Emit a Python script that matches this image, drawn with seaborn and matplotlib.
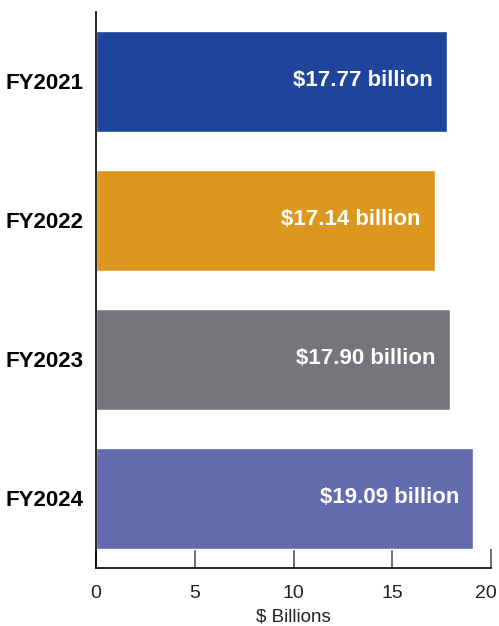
import pandas as pd
import matplotlib.pyplot as plt
import matplotlib.transforms as mtransforms
import seaborn as sns
from matplotlib import font_manager

# Chart data
years = ['FY2021', 'FY2022', 'FY2023', 'FY2024']
revenue = [17.77, 17.14, 17.90, 19.09]
bar_labels = ['$17.77 billion', '$17.14 billion', '$17.90 billion', '$19.09 billion']
bar_colors = ['#1f449b', '#dc971e', '#757679', '#636baf']
x_ticks = [0, 5, 10, 15, 20]


def pick_font():
    names = {f.name for f in font_manager.fontManager.ttflist}
    for name in ['Liberation Sans Narrow', 'Liberation Sans', 'DejaVu Sans']:
        if name in names:
            return name
    return 'DejaVu Sans'


def create_chart():
    df = pd.DataFrame({'year': years, 'value': revenue})

    sns.set_theme(style='white')
    plt.rcParams['font.family'] = [pick_font(), 'DejaVu Sans']

    fig = plt.figure(figsize=(4.99, 6.26), dpi=100)
    ax = fig.add_axes([0.1924, 0.0927, 0.7916, 0.8883])

    sns.barplot(data=df, y='year', x='value', hue='year', palette=bar_colors,
                orient='h', width=0.73, legend=False, ax=ax, saturation=1)

    # white labels inside the bar ends
    for i, (val, txt) in enumerate(zip(revenue, bar_labels)):
        ax.text(val - 0.7, i - 0.01, txt, ha='right', va='center', color='white',
                fontsize=16, fontweight='bold')

    ax.set_xlim(0, 20)
    ax.set_ylim(3.5, -0.5)
    ax.set_xticks(x_ticks)
    ax.set_xticklabels([str(t) for t in x_ticks], fontsize=14, color='#222222')
    ax.set_yticks(range(len(years)))
    ax.set_yticklabels(years, fontsize=16, fontweight='bold', color='black')
    ax.set_xlabel('$ Billions', fontsize=13.5, color='#222222', labelpad=5)
    ax.set_ylabel('')

    ax.tick_params(axis='x', direction='in', length=14, width=1.2,
                   color='#555555', pad=12, bottom=True)
    ax.tick_params(axis='y', length=0, pad=9)

    # keep the last tick label inside the figure edge
    last = ax.get_xticklabels()[-1]
    last.set_transform(last.get_transform() +
                       mtransforms.ScaledTranslation(-5 / 100, 0, fig.dpi_scale_trans))

    for side in ['top', 'right']:
        ax.spines[side].set_visible(False)
    for side in ['left', 'bottom']:
        ax.spines[side].set_color('black')
        ax.spines[side].set_linewidth(1.2)

    plt.savefig('out.png', dpi=100)


if __name__ == '__main__':
    create_chart()
